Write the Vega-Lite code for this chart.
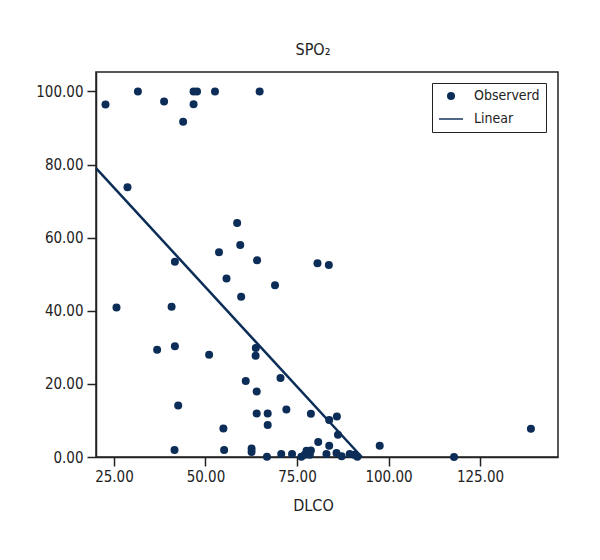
{
  "$schema": "https://vega.github.io/schema/vega-lite/v6.json",
  "width": 462,
  "height": 385,
  "autosize": "none",
  "padding": {"left": 96, "top": 72, "right": 42, "bottom": 103},
  "background": "white",
  "config": {
    "font": "DejaVu Sans Condensed, sans-serif",
    "view": {"stroke": "#222222", "strokeWidth": 1.5},
    "axis": {
      "grid": false,
      "domainColor": "#222222",
      "domainWidth": 1.5,
      "tickColor": "#222222",
      "tickWidth": 1.5,
      "tickSize": 9,
      "labelFontSize": 15,
      "labelColor": "#222222",
      "titleFontSize": 16,
      "titleFontWeight": "normal",
      "titleColor": "#222222"
    }
  },
  "title": {"text": "SPO₂", "fontSize": 16, "fontWeight": "normal", "color": "#222222", "dx": -14, "offset": 14},
  "layer": [
    {
      "data": {"values": [
        {"DLCO": 22.7, "SPO2": 96.4, "series": "Observerd"},
        {"DLCO": 31.55, "SPO2": 100, "series": "Observerd"},
        {"DLCO": 38.7, "SPO2": 97.2, "series": "Observerd"},
        {"DLCO": 46.75, "SPO2": 100, "series": "Observerd"},
        {"DLCO": 47.7, "SPO2": 100, "series": "Observerd"},
        {"DLCO": 46.75, "SPO2": 96.5, "series": "Observerd"},
        {"DLCO": 43.9, "SPO2": 91.7, "series": "Observerd"},
        {"DLCO": 52.6, "SPO2": 100, "series": "Observerd"},
        {"DLCO": 64.8, "SPO2": 100, "series": "Observerd"},
        {"DLCO": 28.7, "SPO2": 73.8, "series": "Observerd"},
        {"DLCO": 58.65, "SPO2": 64.0, "series": "Observerd"},
        {"DLCO": 59.5, "SPO2": 58.0, "series": "Observerd"},
        {"DLCO": 53.7, "SPO2": 56.0, "series": "Observerd"},
        {"DLCO": 41.65, "SPO2": 53.4, "series": "Observerd"},
        {"DLCO": 64.1, "SPO2": 53.8, "series": "Observerd"},
        {"DLCO": 80.6, "SPO2": 53.0, "series": "Observerd"},
        {"DLCO": 83.7, "SPO2": 52.5, "series": "Observerd"},
        {"DLCO": 55.75, "SPO2": 48.8, "series": "Observerd"},
        {"DLCO": 69.0, "SPO2": 47.0, "series": "Observerd"},
        {"DLCO": 59.75, "SPO2": 43.8, "series": "Observerd"},
        {"DLCO": 25.7, "SPO2": 40.9, "series": "Observerd"},
        {"DLCO": 40.75, "SPO2": 41.1, "series": "Observerd"},
        {"DLCO": 36.8, "SPO2": 29.3, "series": "Observerd"},
        {"DLCO": 41.65, "SPO2": 30.3, "series": "Observerd"},
        {"DLCO": 63.75, "SPO2": 29.8, "series": "Observerd"},
        {"DLCO": 63.7, "SPO2": 27.7, "series": "Observerd"},
        {"DLCO": 51.0, "SPO2": 28.0, "series": "Observerd"},
        {"DLCO": 61.0, "SPO2": 20.8, "series": "Observerd"},
        {"DLCO": 70.5, "SPO2": 21.6, "series": "Observerd"},
        {"DLCO": 64.0, "SPO2": 17.9, "series": "Observerd"},
        {"DLCO": 42.55, "SPO2": 14.1, "series": "Observerd"},
        {"DLCO": 64.0, "SPO2": 11.9, "series": "Observerd"},
        {"DLCO": 67.0, "SPO2": 11.9, "series": "Observerd"},
        {"DLCO": 72.1, "SPO2": 13.0, "series": "Observerd"},
        {"DLCO": 78.8, "SPO2": 11.8, "series": "Observerd"},
        {"DLCO": 67.0, "SPO2": 8.75, "series": "Observerd"},
        {"DLCO": 54.9, "SPO2": 7.8, "series": "Observerd"},
        {"DLCO": 83.8, "SPO2": 10.1, "series": "Observerd"},
        {"DLCO": 85.9, "SPO2": 11.1, "series": "Observerd"},
        {"DLCO": 86.2, "SPO2": 6.1, "series": "Observerd"},
        {"DLCO": 80.8, "SPO2": 4.1, "series": "Observerd"},
        {"DLCO": 83.8, "SPO2": 3.1, "series": "Observerd"},
        {"DLCO": 97.6, "SPO2": 3.1, "series": "Observerd"},
        {"DLCO": 138.9, "SPO2": 7.7, "series": "Observerd"},
        {"DLCO": 117.9, "SPO2": 0, "series": "Observerd"},
        {"DLCO": 41.55, "SPO2": 1.9, "series": "Observerd"},
        {"DLCO": 55.1, "SPO2": 1.9, "series": "Observerd"},
        {"DLCO": 62.6, "SPO2": 2.3, "series": "Observerd"},
        {"DLCO": 62.6, "SPO2": 1.4, "series": "Observerd"},
        {"DLCO": 66.8, "SPO2": 0.1, "series": "Observerd"},
        {"DLCO": 70.7, "SPO2": 0.8, "series": "Observerd"},
        {"DLCO": 73.65, "SPO2": 0.8, "series": "Observerd"},
        {"DLCO": 76.2, "SPO2": 0.1, "series": "Observerd"},
        {"DLCO": 77.6, "SPO2": 1.7, "series": "Observerd"},
        {"DLCO": 78.8, "SPO2": 1.8, "series": "Observerd"},
        {"DLCO": 77.1, "SPO2": 0.6, "series": "Observerd"},
        {"DLCO": 78.5, "SPO2": 0.6, "series": "Observerd"},
        {"DLCO": 83.05, "SPO2": 0.8, "series": "Observerd"},
        {"DLCO": 85.8, "SPO2": 1.1, "series": "Observerd"},
        {"DLCO": 87.2, "SPO2": 0.2, "series": "Observerd"},
        {"DLCO": 89.4, "SPO2": 0.8, "series": "Observerd"},
        {"DLCO": 90.6, "SPO2": 0.6, "series": "Observerd"},
        {"DLCO": 91.5, "SPO2": 0.1, "series": "Observerd"}
      ]},
      "mark": {"type": "point", "filled": true, "opacity": 1, "color": "#0c2d57"},
      "encoding": {
        "x": {"field": "DLCO", "type": "quantitative", "scale": {"domain": [20.1, 146.3], "nice": false, "zero": false},
          "axis": {"values": [25, 50, 75, 100, 125], "format": ".2f", "title": "DLCO", "labelPadding": 3, "titlePadding": 13, "titleX": 217}},
        "y": {"field": "SPO2", "type": "quantitative", "scale": {"domain": [0, 105.3], "nice": false, "zero": false},
          "axis": {"values": [0, 20, 40, 60, 80, 100], "format": ".2f", "title": null, "labelPadding": 4}},
        "shape": {"field": "series", "type": "nominal", "scale": {"domain": ["Observerd", "Linear"], "range": ["circle", "M-1,-0.06H1V0.06H-1Z"]},
          "legend": {"title": null, "orient": "none", "legendX": 336, "legendY": 11, "padding": 6, "strokeColor": "#222222", "fillColor": "white",
            "labelFontSize": 14, "labelColor": "#222222", "labelOffset": 10, "rowPadding": 3}},
        "size": {"field": "series", "type": "nominal", "scale": {"domain": ["Observerd", "Linear"], "range": [64, 576]},
          "legend": {"title": null, "orient": "none", "legendX": 336, "legendY": 11, "padding": 6, "strokeColor": "#222222", "fillColor": "white",
            "labelFontSize": 14, "labelColor": "#222222", "labelOffset": 10, "rowPadding": 3}}
      }
    },
    {
      "data": {"values": [
        {"DLCO": 20.1, "SPO2": 79.0},
        {"DLCO": 92.7, "SPO2": 0}
      ]},
      "mark": {"type": "line", "color": "#0c2d57", "strokeWidth": 2.5},
      "encoding": {
        "x": {"field": "DLCO", "type": "quantitative"},
        "y": {"field": "SPO2", "type": "quantitative"}
      }
    }
  ]
}
